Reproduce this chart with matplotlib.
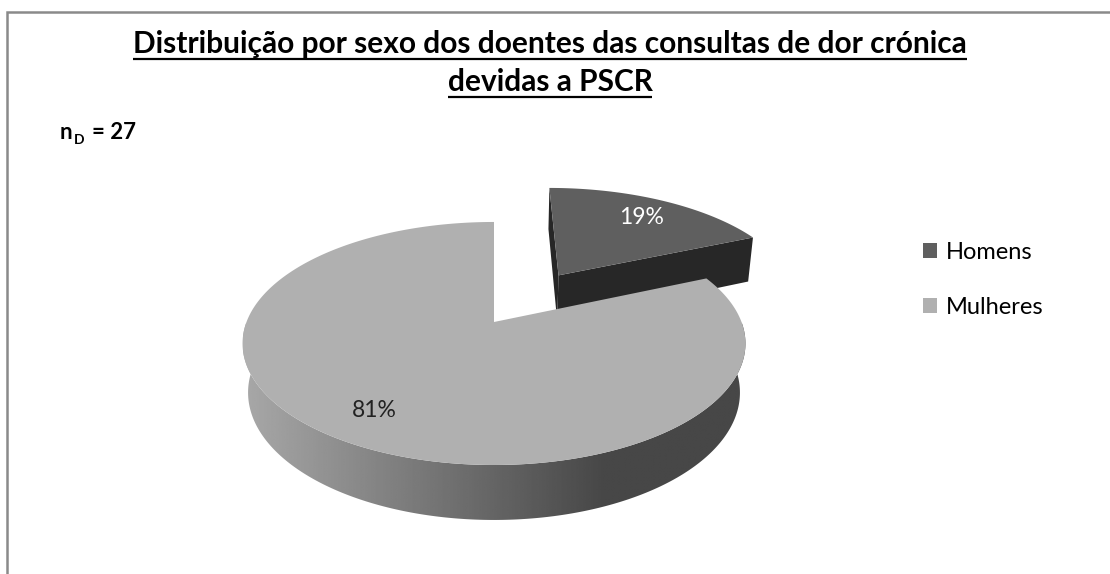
"""3D-style exploded pie: distribuição por sexo (PSCR)."""
import numpy as np
import matplotlib
matplotlib.use('Agg')
import matplotlib.pyplot as plt
from matplotlib.patches import Polygon, Patch

# data
labels = ['Homens', 'Mulheres']
counts = [5, 22]
pct_labels = ['19%', '81%']
explode = [0.51, 0.0]
n_total = 27
title_lines = ['Distribuição por sexo dos doentes das consultas de dor crónica',
               'devidas a PSCR']

top_colors = ['#5f5f5f', '#b0b0b0']
side_colors = ['#272727', '#5a5a5a']
side_gradient = [False, True]
label_colors = ['white', '#222222']

FONT = 'Lato'

# simple perspective view, units of pie radius -> pixels
CX, CY, S = 494, 322, 247.5
PHI = np.radians(28.4)
K = 0.201
H = 0.2276


def proj(x, y, z):
    x, y, z = np.asarray(x, float), np.asarray(y, float), np.asarray(z, float)
    d = 1 + K * (y * np.cos(PHI) - z * np.sin(PHI))
    return CX + S * x / d, CY - S * (y * np.sin(PHI) + z * np.cos(PHI)) / d


CAM = np.array([0, -np.cos(PHI) / K, np.sin(PHI) / K])

fig = plt.figure(figsize=(11.1, 5.74), dpi=100)
ax = fig.add_axes([0, 0, 1, 1])
ax.set_xlim(0, 1110)
ax.set_ylim(574, 0)
ax.axis('off')

# chart frame
ax.plot([7, 7, 1110], [574, 11.5, 11.5], color='#8a8a8a', lw=1.8,
        solid_capstyle='butt', solid_joinstyle='miter')

fractions = np.array(counts) / sum(counts)
starts = 90 - 360 * np.concatenate([[0], np.cumsum(fractions)[:-1]])
ends = starts - 360 * fractions

slices = []
for i in range(len(counts)):
    mid = np.radians((starts[i] + ends[i]) / 2)
    off = explode[i] * np.array([np.cos(mid), np.sin(mid)])
    slices.append((i, np.radians(starts[i]), np.radians(ends[i]), mid, off))
# back to front
slices.sort(key=lambda s: -(s[4][1] + 0.5 * np.sin(s[3])))


def wall_poly(th, ox, oy):
    tx, ty = proj(ox + np.cos(th), oy + np.sin(th), 0 * th)
    bx, by = proj(ox + np.cos(th), oy + np.sin(th), 0 * th - H)
    return np.column_stack([np.r_[tx, bx[::-1]], np.r_[ty, by[::-1]]])


for i, t1, t2, mid, (ox, oy) in slices:
    th = np.linspace(t1, t2, 400)
    front = np.sin(th) < 0
    # outer wall (front half only)
    idx = np.flatnonzero(front)
    if idx.size:
        runs = np.split(idx, np.flatnonzero(np.diff(idx) > 1) + 1)
        for r in runs:
            pts = wall_poly(th[r], ox, oy)
            if side_gradient[i]:
                clip = Polygon(pts, closed=True, facecolor='none', edgecolor='none')
                ax.add_patch(clip)
                x0, x1 = pts[:, 0].min(), pts[:, 0].max()
                y0, y1 = pts[:, 1].min(), pts[:, 1].max()
                gx = np.linspace(x0, x1, 300)
                g = np.interp(gx, [x0, x0 + 0.72 * (x1 - x0), x1], [168, 71, 71])
                im = ax.imshow(g[None, :], cmap='gray', vmin=0, vmax=255,
                               extent=[x0, x1, y1, y0], aspect='auto',
                               interpolation='bilinear', zorder=1)
                im.set_clip_path(clip)
            else:
                ax.add_patch(Polygon(pts, closed=True, facecolor=side_colors[i],
                                     edgecolor='none', zorder=1))
    # radial faces
    for t, normal in [(t1, np.array([-np.sin(t1), np.cos(t1), 0])),
                      (t2, np.array([np.sin(t2), -np.cos(t2), 0]))]:
        cpt = np.array([ox + 0.5 * np.cos(t), oy + 0.5 * np.sin(t), -H / 2])
        if np.dot(normal, CAM - cpt) <= 1e-6:
            continue
        xs = [ox, ox + np.cos(t), ox + np.cos(t), ox]
        ys = [oy, oy + np.sin(t), oy + np.sin(t), oy]
        zs = [0, 0, -H, -H]
        px, py = proj(xs, ys, zs)
        ax.add_patch(Polygon(np.column_stack([px, py]), closed=True,
                             facecolor=side_colors[i], edgecolor='none', zorder=1))
    # top face
    px, py = proj(np.r_[ox, ox + np.cos(th)], np.r_[oy, oy + np.sin(th)],
                  np.zeros(th.size + 1))
    ax.add_patch(Polygon(np.column_stack([px, py]), closed=True,
                         facecolor=top_colors[i], edgecolor='none', zorder=1))
    # data label
    lx, ly = proj(ox + 0.78 * np.cos(mid), oy + 0.78 * np.sin(mid), 0)
    ax.text(lx, ly + 2, pct_labels[i], ha='center', va='center', fontsize=16.5,
            color=label_colors[i], family=FONT, zorder=3)

ax.set_xlim(0, 1110)
ax.set_ylim(574, 0)

# title with underline
title_y = [53, 91]
title_txt = []
for line, y in zip(title_lines, title_y):
    title_txt.append(ax.text(550, y, line, ha='center', va='baseline', fontsize=21.5,
                             fontweight='bold', family=FONT, color='black'))

# n_D = 27
ax.text(60, 139, 'n', fontsize=16, fontweight='bold', family=FONT, va='baseline')
ax.text(74, 144, 'D', fontsize=10, fontweight='bold', family=FONT, va='baseline')
ax.text(92, 139, f'= {n_total}', fontsize=16, fontweight='bold', family=FONT,
        va='baseline')

# legend
handles = [Patch(facecolor=c, edgecolor='none', label=l)
           for c, l in zip(top_colors, labels)]
ax.legend(handles=handles, loc='upper left', bbox_to_anchor=(911 / 1110, 1 - 230 / 574),
          frameon=False, prop={'family': FONT, 'size': 17}, handlelength=0.62,
          handleheight=0.62, handletextpad=0.35, labelspacing=1.45, borderpad=0)

fig.canvas.draw()
inv = ax.transData.inverted()
for t, y in zip(title_txt, title_y):
    bb = t.get_window_extent()
    (xa, _), (xb, _) = inv.transform([[bb.x0, bb.y0], [bb.x1, bb.y1]])
    ax.plot([xa, xb], [y + 6, y + 6], color='black', lw=1.6, solid_capstyle='butt')

fig.savefig('out.png', dpi=100)
